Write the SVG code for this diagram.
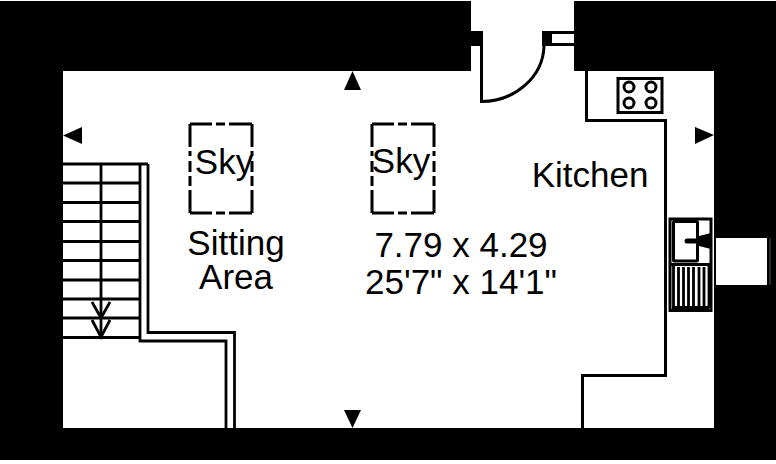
<svg xmlns="http://www.w3.org/2000/svg" width="776" height="464" viewBox="0 0 776 464">
<style>
.w{fill:#000}
.l{fill:none;stroke:#000;stroke-width:3}
.t{stroke:#000;stroke-width:2.800;fill:none}
text{font-family:"Liberation Sans",Arial,sans-serif;fill:#000;text-anchor:middle;font-size:35px}
</style>
<rect width="776" height="464" fill="#fff"/>
<g id="walls">
<path class="w" d="M0 1H471V71H63V428H714V71H574V1H776V460H0Z"/>
<rect x="716" y="238" width="51" height="47" fill="#fff"/>
<rect x="769.500" y="238" width="1" height="47" fill="#555"/>
</g>
<g id="door">
<rect class="w" x="471" y="31" width="12" height="15"/>
<rect class="w" x="542" y="31" width="10" height="15"/>
<path class="l" d="M552 32.500H574M552 44.500H574"/>
<path class="l" d="M481.500 46V101.500A63 57 0 0 0 544 46"/>
</g>
<g id="kitchen-units">
<path class="l" d="M586.500 71V120.500H665.500V375.500H582.500V428"/>
</g>
<g id="cooker">
<rect x="618" y="78.500" width="44" height="34" fill="none" stroke="#000" stroke-width="3"/>
<circle class="l" cx="629" cy="87" r="5"/>
<circle class="l" cx="651" cy="87" r="5"/>
<circle class="l" cx="629" cy="103" r="5"/>
<circle class="l" cx="651" cy="103" r="5"/>
</g>
<g id="sink">
<rect x="670" y="219" width="41" height="91.500" fill="none" stroke="#000" stroke-width="3"/>
<rect x="673.500" y="221.500" width="24" height="39.500" rx="1" fill="none" stroke="#000" stroke-width="3"/>
<path class="l" d="M670 264.500H711"/>
<path stroke="#000" stroke-width="5" stroke-linecap="round" d="M687 241H700"/>
<path class="w" d="M699 236L711 233V249L699 246Z"/>
<path fill="none" stroke="#000" stroke-width="2.800" d="M673.500 266V308M678.500 267V307M683.500 267V307M688.500 267V307M693.500 267V307M699 267V307M704 267V307M709 266V308"/>
<path class="l" d="M672 307.500H709"/>
</g>
<g id="stairs">
<path class="t" d="M63 164H148M63 183H140M63 202.500H140M63 221.500H140M63 241.500H140M63 260.500H140M63 280H140M63 299H140M63 318H140M63 337.500H140"/>
<path class="t" d="M101 164V337"/>
<path class="t" d="M92 302L101 318L110 302M92 320L101 337L110 320"/>
<path class="t" d="M140 164V341H226V428M148 164V332.500H234.500V428"/>
</g>
<g id="marks">
<path class="w" d="M63 135.500L82 127V144Z"/>
<path class="w" d="M344 90H361L352.500 71Z"/>
<path class="w" d="M344 410H361L352.500 428Z"/>
<path class="w" d="M714 135L695 127V144Z"/>
</g>
<g id="skylight-1">
<path class="l" d="M190 124H252M190 213H252" stroke-dasharray="22 4 9 4 23 200"/>
<path class="l" d="M190 124V147M190 190V213M252 124V147M252 190V213M190 151V156M190 161V172M190 176V186M252 151V156M252 161V172M252 176V186"/>
<text x="224" y="174">Sky</text>
</g>
<g id="skylight-2">
<path class="l" d="M372 124H434M372 213H434" stroke-dasharray="22 4 9 4 23 200"/>
<path class="l" d="M372 124V147M372 190V213M434 124V147M434 190V213M372 151V156M372 161V172M372 176V186M434 151V156M434 161V172M434 176V186"/>
<text x="401" y="173">Sky</text>
</g>
<g id="labels">
<text x="236" y="255">Sitting</text>
<text x="236" y="289">Area</text>
<text x="461" y="257">7.79 x 4.29</text>
<text x="461" y="294">25'7" x 14'1"</text>
<text x="590" y="187">Kitchen</text>
</g>
</svg>
